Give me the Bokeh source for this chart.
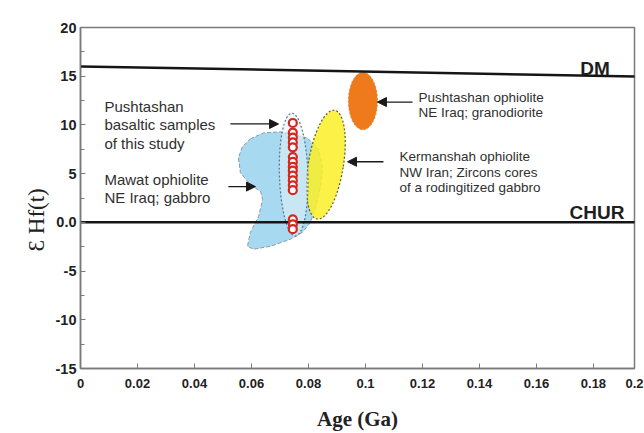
from bokeh.plotting import figure
from bokeh.models import Range1d, FixedTicker, Label, Arrow, NormalHead, Title
from bokeh.embed import file_html
from bokeh.resources import INLINE

# ---------------- data ----------------
x_ticks = [0, 0.02, 0.04, 0.06, 0.08, 0.1, 0.12, 0.14, 0.16, 0.18]
x_tick_labels = ["0", "0.02", "0.04", "0.06", "0.08", "0.1", "0.12", "0.14", "0.16", "0.18"]
x_end = 0.1944
x_end_label = "0.2"
y_ticks = [-15, -10, -5, 0, 5, 10, 15, 20]
y_tick_labels = ["-15", "-10", "-5", "0.0", "5", "10", "15", "20"]
y_minor = [-12.5, -7.5, -2.5, 2.5, 7.5, 12.5, 17.5]

dm_age = [0.0, 0.2]
dm_ehf = [16.0, 14.95]
chur_age = [0.0, 0.2]
chur_ehf = [0.0, 0.0]

# Pushtashan basaltic samples (this study)
sample_age = [0.0745] * 16
sample_ehf = [10.2, 9.2, 8.7, 8.2, 7.7, 6.7, 6.2, 5.7, 5.3, 4.8, 4.3, 3.8, 3.3, 0.3, -0.2, -0.7]

# Mawat ophiolite field (outline)
mawat_age = [0.0596, 0.0642, 0.0702, 0.0796, 0.0835, 0.0849, 0.0842, 0.0828, 0.0807,
             0.0779, 0.0737, 0.0667, 0.0607, 0.0586, 0.0596, 0.0625, 0.0639, 0.0632,
             0.0596, 0.0561, 0.0554, 0.0568]
mawat_ehf = [8.57, 9.18, 9.29, 8.67, 7.45, 5.71, 3.67, 1.84, 0.0,
             -1.02, -1.73, -2.45, -2.76, -2.45, -1.02, 0.61, 2.35, 3.16,
             3.88, 5.10, 6.63, 7.76]

# Fields drawn as ellipses: centre age, centre eHf, width (Ga), height (eHf)
sample_field = dict(x=[0.0748], y=[4.9], w=[0.0100], h=[12.6])
kermanshah_field = dict(x=[0.0861], y=[5.92], w=[0.0123], h=[11.3])
granodiorite_field = dict(x=[0.0991], y=[12.45], w=[0.0102], h=[5.9])

# ---------------- figure ----------------
p = figure(width=644, height=433, output_backend="svg", toolbar_location=None,
           x_range=Range1d(0, x_end), y_range=Range1d(-15, 20),
           min_border_left=80, min_border_right=10, min_border_top=27,
           min_border_bottom=63)
p.grid.visible = False
p.outline_line_color = "#7a7a7a"
p.outline_line_width = 1.5
p.background_fill_color = "white"
p.border_fill_color = "white"

# fields
p.patch(mawat_age, mawat_ehf, fill_color="#a7d9f1", fill_alpha=1.0,
        line_color="#8a9aa4", line_width=1, line_dash="4 2")
p.ellipse(x=kermanshah_field["x"], y=kermanshah_field["y"],
          width=kermanshah_field["w"], height=kermanshah_field["h"], angle=-0.16,
          fill_color="#fbef26", fill_alpha=0.85, line_color="#5e5a2a",
          line_width=1.2, line_dash="2 2")
p.ellipse(x=sample_field["x"], y=sample_field["y"], width=sample_field["w"],
          height=sample_field["h"], angle=0.03,
          fill_color="#e6f1f5", fill_alpha=0.55, line_color="#55748a",
          line_width=1.2, line_dash="2 2")
p.ellipse(x=granodiorite_field["x"], y=granodiorite_field["y"],
          width=granodiorite_field["w"], height=granodiorite_field["h"],
          fill_color="#ee7a1c", line_color="#d98a3a", line_width=1, line_dash="2 2")

# reference lines
p.line(dm_age, dm_ehf, line_color="#151515", line_width=2.5)
p.line(chur_age, chur_ehf, line_color="#151515", line_width=2.5)

# samples
p.scatter(sample_age, sample_ehf, marker="circle", size=8, fill_color="white",
          line_color="#d6261d", line_width=2.2)

# line labels
p.add_layout(Label(x=0.1754, y=15.8, text="DM", text_font="Liberation Sans",
                   text_font_style="bold", text_font_size="19px",
                   text_color="#1e1e1e", text_baseline="middle"))
p.add_layout(Label(x=0.1716, y=1.0, text="CHUR", text_font="Liberation Sans",
                   text_font_style="bold", text_font_size="19px",
                   text_color="#1e1e1e", text_baseline="middle"))

# annotations
def note(x, y, txt, size, lh):
    p.add_layout(Label(x=x, y=y, text=txt, text_font="Liberation Sans",
                       text_font_size=size, text_color="#303030",
                       text_baseline="top", text_align="left",
                       text_line_height=lh))

note(0.0084, 12.75, "Pushtashan\nbasaltic samples\nof this study", "15px", 1.07)
note(0.0084, 5.3, "Mawat ophiolite\nNE Iraq; gabbro", "15px", 1.07)
note(0.1186, 13.6, "Pushtashan ophiolite\nNE Iraq; granodiorite", "13.5px", 1.02)
note(0.1119, 7.5, "Kermanshah ophiolite\nNW Iran; Zircons cores\nof a rodingitized gabbro", "13.5px", 1.02)

def arrow(x0, x1, y):
    p.add_layout(Arrow(x_start=x0, y_start=y, x_end=x1, y_end=y,
                       line_color="#1a1a1a", line_width=1.3,
                       end=NormalHead(size=9, fill_color="#1a1a1a",
                                      line_color="#1a1a1a")))

arrow(0.0526, 0.0695, 10.1)
arrow(0.0519, 0.0614, 3.67)
arrow(0.1165, 0.1042, 12.35)
arrow(0.1063, 0.0937, 6.22)

# y axis title as a side title (offset to match the original placement)
p.add_layout(Title(text="Ɛ Hf(t)", align="left", offset=117,
                   text_font="Liberation Serif", text_font_size="23px",
                   text_font_style="normal", text_color="#222222",
                   standoff=8), "left")

# axes
xt = x_ticks + [x_end]
xl = x_tick_labels + [x_end_label]
p.xaxis.ticker = FixedTicker(ticks=xt)
p.xaxis.major_label_overrides = {t: l for t, l in zip(xt, xl)}
p.yaxis.ticker = FixedTicker(ticks=y_ticks, minor_ticks=y_minor)
p.yaxis.major_label_overrides = {t: l for t, l in zip(y_ticks, y_tick_labels)}

for ax in (p.xaxis, p.yaxis):
    ax.axis_line_color = "#7a7a7a"
    ax.axis_line_width = 1.5
    ax.major_tick_line_color = "#7a7a7a"
    ax.major_tick_in = 5
    ax.major_tick_out = 0
    ax.minor_tick_line_color = "#7a7a7a"
    ax.minor_tick_in = 4
    ax.minor_tick_out = 0
    ax.major_label_text_font = "Liberation Sans"
    ax.major_label_text_font_style = "bold"
    ax.major_label_text_color = "#222222"

p.xaxis.major_label_text_font_size = "13px"
p.xaxis.major_label_standoff = 10
p.yaxis.major_label_text_font_size = "14.5px"
p.yaxis.major_label_standoff = 4

p.xaxis.axis_label = "Age (Ga)"
p.xaxis.axis_label_text_font = "Liberation Serif"
p.xaxis.axis_label_text_font_style = "bold"
p.xaxis.axis_label_text_font_size = "21px"
p.xaxis.axis_label_text_color = "#222222"
p.xaxis.axis_label_standoff = 16

open("out.html", "w").write(file_html(p, INLINE))
